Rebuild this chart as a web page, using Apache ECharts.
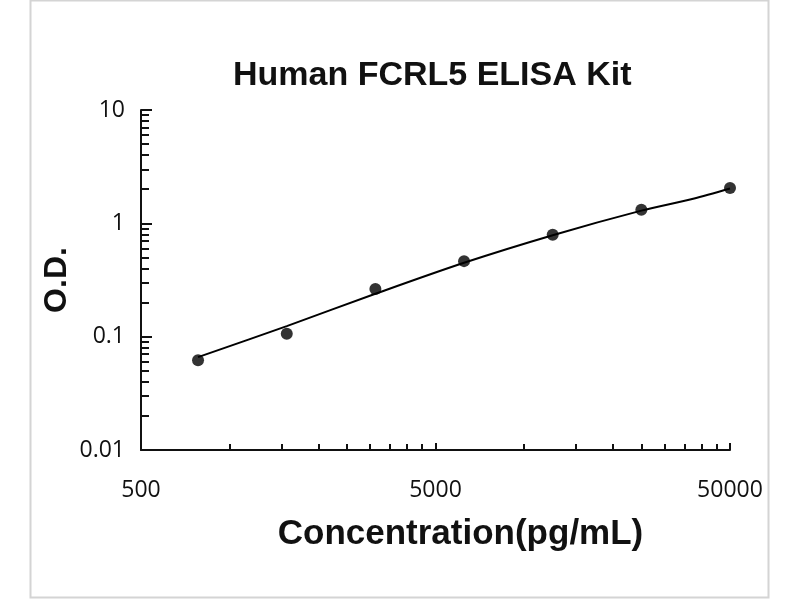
<!DOCTYPE html>
<html>
<head>
<meta charset="utf-8">
<script src="https://cdn.jsdelivr.net/npm/echarts@6/dist/echarts.min.js"></script>
<style>
  html, body { margin: 0; padding: 0; background: #fff; }
  #chart { width: 800px; height: 600px; }
</style>
</head>
<body>
<div id="chart"></div>
<script>
// standard points (concentration pg/mL, O.D.)
const concX = [781, 1563, 3125, 6250, 12500, 25000, 50000];
const odY = [0.062, 0.106, 0.264, 0.464, 0.794, 1.32, 2.05];

// fitted curve
const fitX = [781, 1563, 3125, 6250, 12500, 25000, 37500, 50000];
const fitY = [0.066, 0.124, 0.239, 0.449, 0.786, 1.295, 1.65, 2.03];

// tick labels and tick marks
const xLabels = [500, 5000, 50000];
const xMinor = [1000, 1500, 2000, 2500, 3000, 3500, 4000, 4500,
                10000, 15000, 20000, 25000, 30000, 35000, 40000, 45000];
const yLabels = [0.01, 0.1, 1, 10];
const yMinor = [0.02, 0.03, 0.04, 0.05, 0.06, 0.07, 0.08, 0.09,
                0.2, 0.3, 0.4, 0.5, 0.6, 0.7, 0.8, 0.9,
                2, 3, 4, 5, 6, 7, 8, 9];

const chart = echarts.init(document.getElementById('chart'));

const labelFont = {
    color: '#111',
    fontFamily: 'Open Sans',
    fontSize: 23
};

const option = {
    backgroundColor: '#fff',
    animation: false,
    title: {
        text: 'Human FCRL5 ELISA Kit',
        left: 233,
        top: 59,
        padding: 0,
        textStyle: {
            fontFamily: 'Liberation Sans',
            fontWeight: 'bold',
            fontSize: 34,
            color: '#111'
        }
    },
    graphic: [{
        type: 'rect',
        shape: { x: 30.5, y: 0.5, width: 738, height: 597 },
        style: { fill: 'none', stroke: '#d4d4d4', lineWidth: 2 },
        silent: true
    }],
    grid: {
        left: 141,
        right: 70,
        top: 110,
        bottom: 150
    },
    xAxis: [{
        type: 'log',
        logBase: 10,
        min: 500,
        max: 50000,
        name: 'Concentration(pg/mL)',
        nameLocation: 'middle',
        nameGap: 67,
        nameTextStyle: {
            fontFamily: 'Liberation Sans',
            fontWeight: 'bold',
            fontSize: 35,
            color: '#111',
            padding: [0, 0, 0, 50]
        },
        axisLine: { lineStyle: { color: '#111', width: 2 } },
        axisTick: {
            inside: true,
            length: 7,
            customValues: xLabels,
            lineStyle: { color: '#111', width: 2 }
        },
        axisLabel: Object.assign({
            customValues: xLabels,
            margin: 29,
            formatter: function (v) { return String(Math.round(v)); }
        }, labelFont),
        splitLine: { show: false }
    }, {
        type: 'log',
        logBase: 10,
        min: 500,
        max: 50000,
        position: 'bottom',
        axisLine: { show: false },
        axisTick: {
            inside: true,
            length: 6,
            customValues: xMinor,
            lineStyle: { color: '#111', width: 2 }
        },
        axisLabel: { show: false },
        splitLine: { show: false }
    }],
    yAxis: [{
        type: 'log',
        logBase: 10,
        min: 0.01,
        max: 10,
        name: 'O.D.',
        nameLocation: 'middle',
        nameGap: 68,
        nameMoveOverlap: false,
        nameRotate: 90,
        nameTextStyle: {
            fontFamily: 'Liberation Sans',
            fontWeight: 'bold',
            fontSize: 32,
            color: '#111'
        },
        axisLine: { lineStyle: { color: '#111', width: 2 } },
        axisTick: {
            inside: true,
            length: 11,
            customValues: yLabels,
            lineStyle: { color: '#111', width: 2 }
        },
        axisLabel: Object.assign({
            customValues: yLabels,
            margin: 16,
            formatter: function (v) { return String(v); }
        }, labelFont),
        splitLine: { show: false }
    }, {
        type: 'log',
        logBase: 10,
        min: 0.01,
        max: 10,
        position: 'left',
        axisLine: { show: false },
        axisTick: {
            inside: true,
            length: 8,
            customValues: yMinor,
            lineStyle: { color: '#111', width: 2 }
        },
        axisLabel: { show: false },
        splitLine: { show: false }
    }],
    series: [{
        type: 'line',
        data: fitX.map((x, i) => [x, fitY[i]]),
        smooth: 0.3,
        showSymbol: false,
        lineStyle: { color: '#000', width: 2 },
        z: 2
    }, {
        type: 'scatter',
        data: concX.map((x, i) => [x, odY[i]]),
        symbol: 'circle',
        symbolSize: 12,
        itemStyle: { color: '#000' },
        z: 3
    }]
};

chart.setOption(option);
</script>
</body>
</html>
